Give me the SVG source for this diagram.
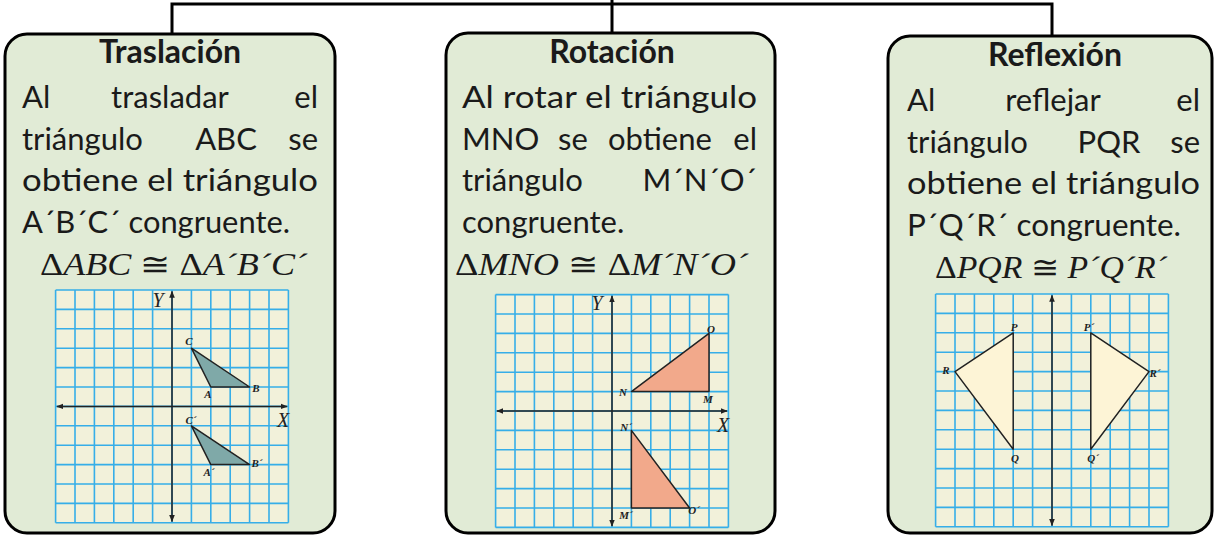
<svg xmlns="http://www.w3.org/2000/svg" width="1216" height="538" viewBox="0 0 1216 538">
<style>
.box{fill:#e1ebd6;stroke:#000;stroke-width:3}
.t{font-family:Lato,"Noto Sans",sans-serif;font-size:31px;fill:#1a1a1a}
.h{font-weight:bold;text-anchor:middle;font-size:32px}
.mid{text-anchor:middle}
.end{text-anchor:end}
.m{font-family:"Liberation Serif",serif;font-style:italic;font-size:31px;fill:#1a1a1a}
.up{font-style:normal}
.l{font-family:"Liberation Serif",serif;font-style:italic;font-weight:bold;font-size:11px;fill:#222;text-anchor:middle}
.ax{font-family:"Liberation Serif",serif;font-style:italic;font-size:20px;fill:#222;text-anchor:middle}
.axis{stroke:#222;stroke-width:1.5;fill:none;marker-start:url(#ar);marker-end:url(#ar)}
.tri{stroke:#222;stroke-width:1.5;stroke-linejoin:round}
.conn{stroke:#000;stroke-width:3;fill:none}
</style>
<defs>
<marker id="ar" viewBox="0 0 10 10" refX="9" refY="5" markerWidth="7" markerHeight="7" markerUnits="userSpaceOnUse" orient="auto-start-reverse">
<path d="M0 1L10 5L0 9z" fill="#222"/>
</marker>
<g id="grid">
<rect x="-116.4" y="-116.4" width="232.8" height="232.8" fill="#f2f1da"/>
<path stroke="#36aee8" stroke-width="1.6" fill="none" d="M-116.4-116.4V116.4M-97-116.4V116.4M-77.6-116.4V116.4M-58.2-116.4V116.4M-38.8-116.4V116.4M-19.4-116.4V116.4M0-116.4V116.4M19.4-116.4V116.4M38.8-116.4V116.4M58.2-116.4V116.4M77.6-116.4V116.4M97-116.4V116.4M116.4-116.4V116.4M-116.4-116.4H116.4M-116.4-97H116.4M-116.4-77.6H116.4M-116.4-58.2H116.4M-116.4-38.8H116.4M-116.4-19.4H116.4M-116.4 0H116.4M-116.4 19.4H116.4M-116.4 38.8H116.4M-116.4 58.2H116.4M-116.4 77.6H116.4M-116.4 97H116.4M-116.4 116.4H116.4"/>
</g>
</defs>

<g id="connectors">
<path class="conn" d="M172 34V4H1052V36"/>
<path class="conn" d="M612 0V33"/>
</g>

<g id="traslacion">
<rect class="box" x="5" y="34" width="330" height="499" rx="22"/>
<text class="t h" x="170" y="63">Traslación</text>
<text class="t" x="22" y="108">Al</text>
<text class="t mid" x="170" y="108">trasladar</text>
<text class="t end" x="318" y="108">el</text>
<text class="t" x="22" y="150">triángulo</text>
<text class="t mid" x="226" y="150">ABC</text>
<text class="t end" x="318" y="150">se</text>
<text class="t" x="22" y="191" textLength="296" lengthAdjust="spacingAndGlyphs">obtiene el triángulo</text>
<text class="t" x="22" y="233" textLength="268" lengthAdjust="spacingAndGlyphs">A´B´C´ congruente.</text>
<text class="m" x="40" y="275" textLength="267" lengthAdjust="spacingAndGlyphs"><tspan class="up">Δ</tspan>ABC <tspan class="up">≅</tspan> <tspan class="up">Δ</tspan>A´B´C´</text>
<use href="#grid" transform="translate(172 406.4)"/>
<g transform="translate(172 406.4)">
<path class="axis" d="M0-115V115"/>
<path class="axis" d="M-115 0H115"/>
<polygon class="tri" fill="#7fa9a8" points="19.4,-58.2 38.8,-19.4 77.6,-19.4"/>
<polygon class="tri" fill="#7fa9a8" points="19.4,19.4 38.8,58.2 77.6,58.2"/>
</g>
<text class="ax" x="158" y="307">Y</text>
<text class="ax" x="283" y="427">X</text>
<text class="l" x="189" y="345">C</text>
<text class="l" x="208" y="398">A</text>
<text class="l" x="256" y="392">B</text>
<text class="l" x="191" y="424">C´</text>
<text class="l" x="209" y="476">A´</text>
<text class="l" x="257" y="467">B´</text>
</g>

<g id="rotacion">
<rect class="box" x="446" y="33" width="329" height="500" rx="22"/>
<text class="t h" x="612" y="63">Rotación</text>
<text class="t" x="462" y="108" textLength="295" lengthAdjust="spacingAndGlyphs">Al rotar el triángulo</text>
<text class="t" x="462" y="150">MNO</text>
<text class="t" x="558" y="150">se</text>
<text class="t" x="608" y="150">obtiene</text>
<text class="t end" x="757" y="150">el</text>
<text class="t" x="462" y="191">triángulo</text>
<text class="t end" x="757" y="191">M´N´O´</text>
<text class="t" x="462" y="233">congruente.</text>
<text class="m" x="455" y="275" textLength="293" lengthAdjust="spacingAndGlyphs"><tspan class="up">Δ</tspan>MNO <tspan class="up">≅</tspan> <tspan class="up">Δ</tspan>M´N´O´</text>
<use href="#grid" transform="translate(612 411)"/>
<g transform="translate(612 411)">
<path class="axis" d="M0-115V115"/>
<path class="axis" d="M-115 0H115"/>
<polygon class="tri" fill="#f2a98b" points="19.4,-19.4 97,-19.4 97,-77.6"/>
<polygon class="tri" fill="#f2a98b" points="19.4,19.4 19.4,97 77.6,97"/>
</g>
<text class="ax" x="597" y="310">Y</text>
<text class="ax" x="723" y="432">X</text>
<text class="l" x="711" y="333">O</text>
<text class="l" x="623" y="396">N</text>
<text class="l" x="708" y="403">M</text>
<text class="l" x="626" y="431">N´</text>
<text class="l" x="626" y="519">M´</text>
<text class="l" x="694" y="514">O´</text>
</g>

<g id="reflexion">
<rect class="box" x="888" y="36" width="324" height="497" rx="22"/>
<text class="t h" x="1055" y="66">Reflexión</text>
<text class="t" x="907" y="111">Al</text>
<text class="t mid" x="1053" y="111">reflejar</text>
<text class="t end" x="1200" y="111">el</text>
<text class="t" x="907" y="153">triángulo</text>
<text class="t mid" x="1109" y="153">PQR</text>
<text class="t end" x="1200" y="153">se</text>
<text class="t" x="907" y="194" textLength="293" lengthAdjust="spacingAndGlyphs">obtiene el triángulo</text>
<text class="t" x="907" y="236" textLength="274" lengthAdjust="spacingAndGlyphs">P´Q´R´ congruente.</text>
<text class="m" x="935" y="278" textLength="232" lengthAdjust="spacingAndGlyphs"><tspan class="up">Δ</tspan>PQR <tspan class="up">≅</tspan> P´Q´R´</text>
<use href="#grid" transform="translate(1052 410.4)"/>
<g transform="translate(1052 410.4)">
<path class="axis" d="M0-115V115"/>
<polygon class="tri" fill="#fdf4d6" points="-38.8,-77.6 -38.8,38.8 -97,-38.8"/>
<polygon class="tri" fill="#fdf4d6" points="38.8,-77.6 38.8,38.8 97,-38.8"/>
</g>
<text class="l" x="1014" y="331">P</text>
<text class="l" x="946" y="374">R</text>
<text class="l" x="1015" y="462">Q</text>
<text class="l" x="1089" y="331">P´</text>
<text class="l" x="1155" y="377">R´</text>
<text class="l" x="1093" y="462">Q´</text>
</g>
</svg>
